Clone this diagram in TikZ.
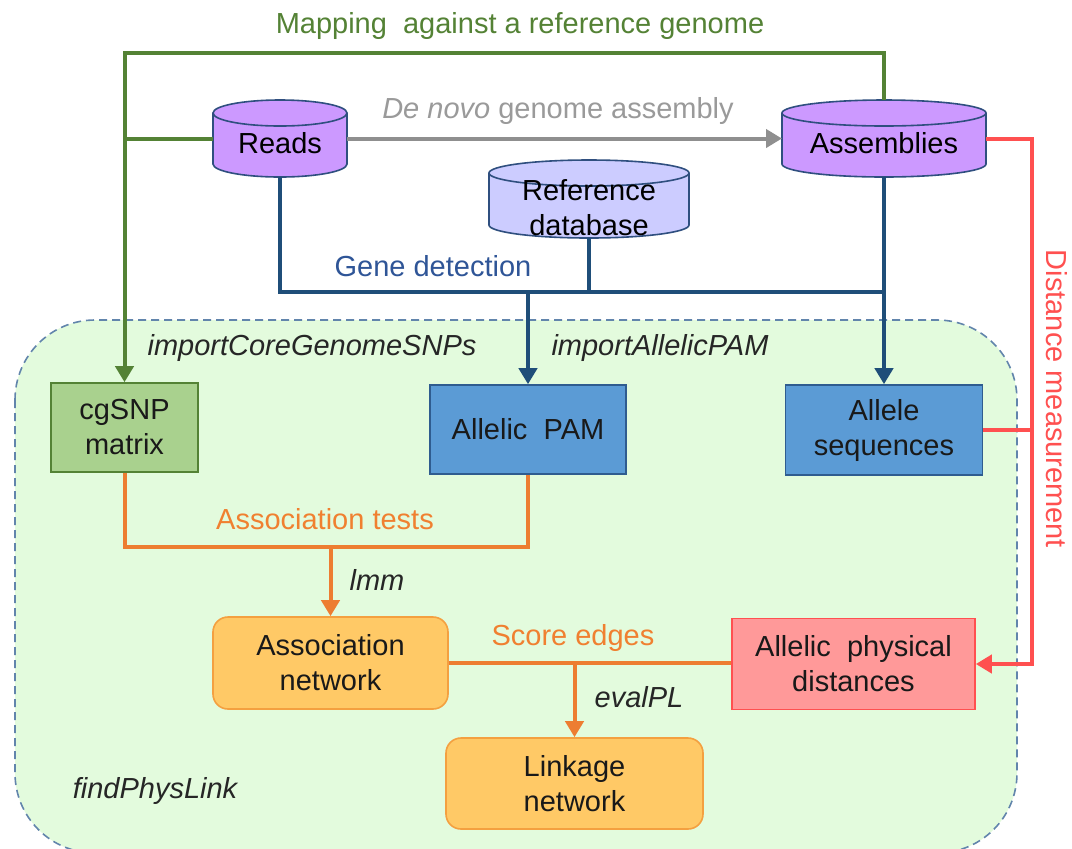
\documentclass[tikz,border=0pt]{standalone}
\usepackage{fontspec}
\setmainfont{Liberation Sans}
\usetikzlibrary{arrows.meta,calc}
\definecolor{mapgreen}{HTML}{548235}
\definecolor{grayarr}{HTML}{8F8F8F}
\definecolor{graytxt}{HTML}{9A9A9A}
\definecolor{bluel}{HTML}{1F4E79}
\definecolor{btxt}{HTML}{2F5597}
\definecolor{cylfill}{HTML}{CC99FF}
\definecolor{cylline}{HTML}{2F4F7F}
\definecolor{dbfill}{HTML}{CCCCFF}
\definecolor{snpfill}{HTML}{A9D18E}
\definecolor{snpline}{HTML}{548235}
\definecolor{pamfill}{HTML}{5B9BD5}
\definecolor{pamline}{HTML}{2F5C8F}
\definecolor{orline}{HTML}{ED7D31}
\definecolor{ortxt}{HTML}{F08030}
\definecolor{netfill}{HTML}{FFC966}
\definecolor{netline}{HTML}{F4A040}
\definecolor{redl}{HTML}{FF5050}
\definecolor{physfill}{HTML}{FF9999}
\definecolor{regfill}{HTML}{E3FBDD}
\definecolor{regline}{HTML}{6285AC}
\definecolor{lbltxt}{HTML}{262626}
\newcommand\mycyl[5]{%
  \path[fill=#5, draw=cylline, line width=0.8pt] (#1-#4,#2+13) -- (#1-#4,#3-13) arc[start angle=180,end angle=360,x radius={#4*0.5pt},y radius=6.5pt] -- (#1+#4,#2+13) arc[start angle=0,end angle=180,x radius={#4*0.5pt},y radius=6.5pt] -- cycle;
  \draw[cylline, line width=0.8pt] (#1-#4,#2+13) arc[start angle=180,end angle=360,x radius={#4*0.5pt},y radius=6.5pt];
}
\begin{document}
\begin{tikzpicture}[x=0.5pt,y=-0.5pt,
  txt/.style={font=\fontsize{14.5}{17.5}\selectfont, text=black, inner sep=0pt},
  itl/.style={font=\fontsize{14.5}{17.5}\selectfont\itshape, text=lbltxt, inner sep=0pt},
  sqbox/.style={txt, align=center, line width=0.8pt, text=black!90},
  rbox/.style={sqbox, rounded corners=7.5pt},
  cylnode/.style={inner sep=0pt, outer sep=0pt},
  conn/.style={line width=2pt},
  arrowed/.style={-{Triangle[width=9pt,length=8pt]}}]
\useasboundingbox (0,0) rectangle (1072,848);
\fill[white] (0,0) rectangle (1072,848);
\begin{scope}
\clip (0,0) rectangle (1072,848);
\path[fill=regfill, draw=regline, dash pattern=on 4pt off 2.5pt, line width=0.8pt, rounded corners=40pt] (15,320) rectangle (1017,853);
\end{scope}

% cylinders
\node[cylnode, minimum width=67pt, minimum height=38.5pt] (reads) at (280,138.5) {};
\mycyl{280}{100}{177}{67}{cylfill}
\node[txt, anchor=base] (readstxt) at (280,153) {Reads};
\node[cylnode, minimum width=102pt, minimum height=38.5pt] (asm) at (884,138.5) {};
\mycyl{884}{100}{177}{102}{cylfill}
\node[txt, anchor=base] (asmtxt) at (884,153) {Assemblies};
\node[cylnode, minimum width=100pt, minimum height=39pt] (refdb) at (589,199) {};
\mycyl{589}{160}{238}{100}{dbfill}
\node[txt, align=center] (refdbtxt) at (589,207.5) {Reference\\database};

% boxes
\node[sqbox, fill=snpfill, draw=snpline, minimum width=73.5pt, minimum height=44.5pt] (cgsnp) at (124.5,427.5) {cgSNP\\matrix};
\node[sqbox, fill=pamfill, draw=pamline, minimum width=98pt, minimum height=44.5pt] (pam) at (528,429.5) {Allelic~ PAM};
\node[sqbox, fill=pamfill, draw=pamline, minimum width=98.5pt, minimum height=45pt] (alseq) at (884,430) {Allele\\sequences};
\node[rbox, fill=netfill, draw=netline, minimum width=117.5pt, minimum height=46pt] (assoc) at (330.5,663) {Association\\network};
\node[rbox, fill=netfill, draw=netline, minimum width=128.5pt, minimum height=45.5pt] (link) at (574.5,783.5) {Linkage\\network};
\node[sqbox, fill=physfill, draw=redl, minimum width=121.5pt, minimum height=45.5pt] (phys) at (853.5,664) {Allelic~ physical\\distances};

% helper coordinates
\coordinate (gtop) at (0,53);
\coordinate (bj) at (0,292);
\coordinate (oj) at (0,547);
\coordinate (rx) at (1032,0);

% connectors
\draw[conn, mapgreen, arrowed] (asm.north) |- (cgsnp.north |- gtop) -- (cgsnp.north);
\draw[conn, mapgreen] (reads.west) -- (reads.west -| cgsnp.north);
\draw[conn, grayarr, arrowed] (reads.east) -- (asm.west);
\draw[conn, bluel] (reads.south) |- (asm.south |- bj);
\draw[conn, bluel] (refdb.south) -- (refdb.south |- bj);
\draw[conn, bluel, arrowed] (asm.south) -- (alseq.north);
\draw[conn, bluel, arrowed] (pam.north |- bj) -- (pam.north);
\draw[conn, redl, arrowed] (asm.east) -| (rx |- phys.east) -- (phys.east);
\draw[conn, redl] (alseq.east) -- (alseq.east -| rx);
\draw[conn, orline] (cgsnp.south) |- (pam.south |- oj) -- (pam.south);
\draw[conn, orline, arrowed] (assoc.north |- oj) -- (assoc.north);
\draw[conn, orline] (assoc.east) -- (assoc.east -| phys.west);
\draw[conn, orline, arrowed] (link.north |- assoc.east) -- (link.north);

% labels
\node[txt, text=mapgreen, anchor=base] (tmap) at (520,33) {Mapping~ against a reference genome};
\node[txt, text=graytxt, anchor=base] (tdenovo) at (558,118) {\textit{De novo} genome assembly};
\node[txt, text=btxt, anchor=base] (tgene) at (433,276) {Gene detection};
\node[itl, anchor=base] (tics) at (312,355) {importCoreGenomeSNPs};
\node[itl, anchor=base] (tiap) at (660,355) {importAllelicPAM};
\node[txt, text=ortxt, anchor=base] (tat) at (325,529) {Association tests};
\node[itl, anchor=base] (tlmm) at (377,590) {lmm};
\node[txt, text=ortxt, anchor=base] (tse) at (573,645) {Score edges};
\node[itl, anchor=base] (teval) at (639,707) {evalPL};
\node[itl, anchor=base] (tfind) at (155,798) {findPhysLink};
\node[txt, text=redl, rotate=-90] (tdist) at (1057,399) {Distance measurement};
\end{tikzpicture}
\end{document}
